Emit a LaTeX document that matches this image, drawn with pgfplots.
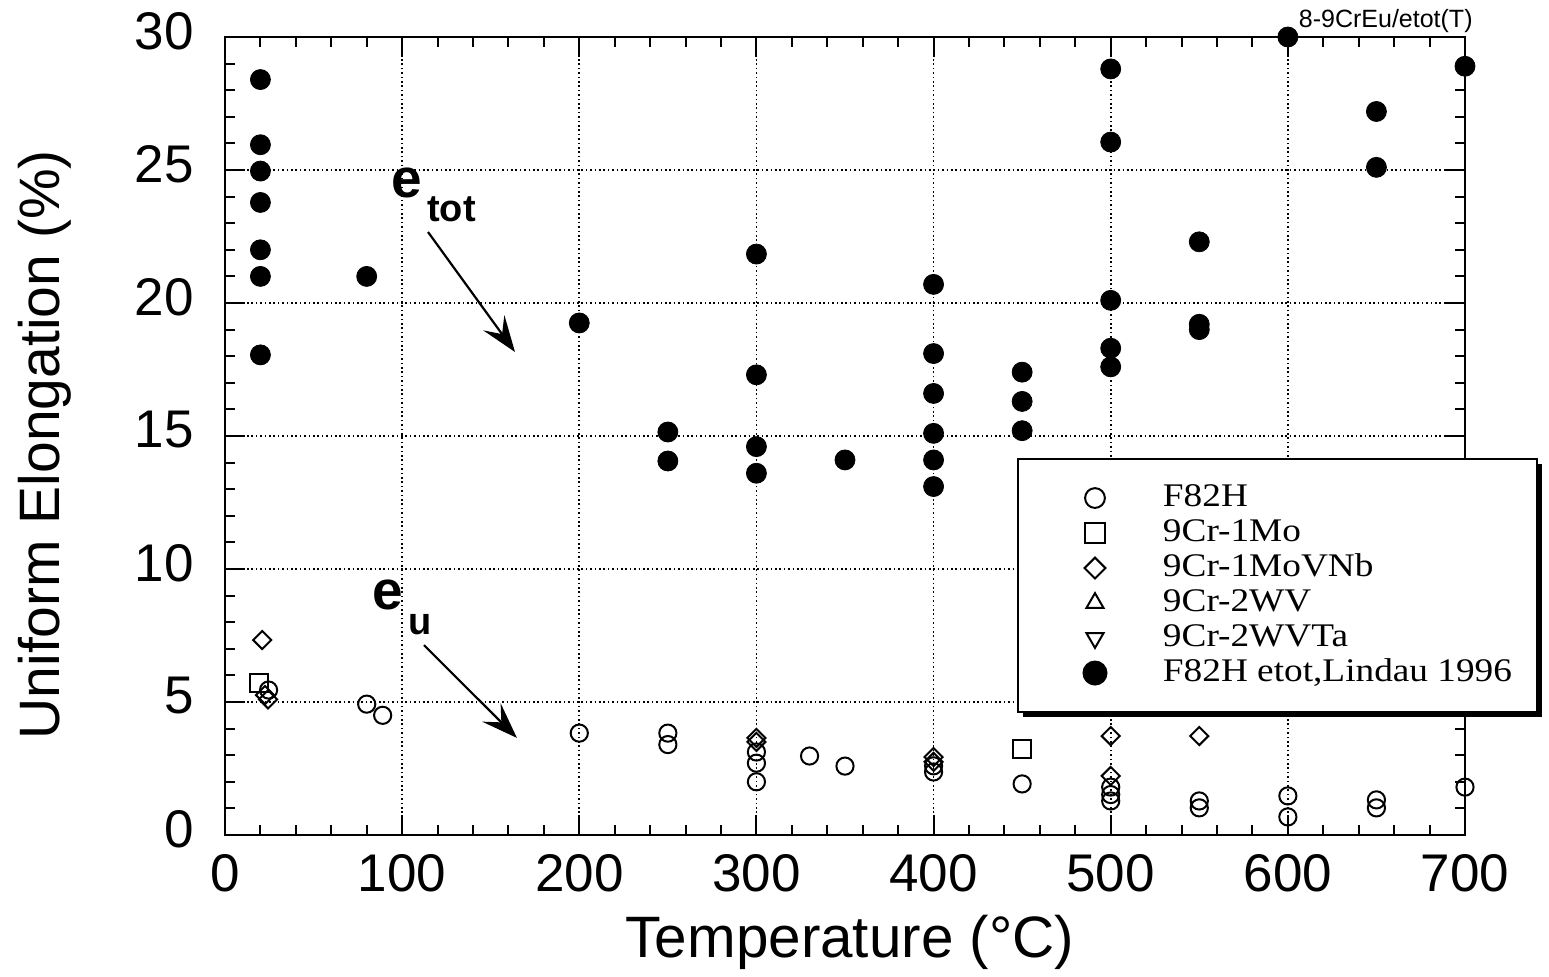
\documentclass[border=0pt]{standalone}
\usepackage{fontspec}
\setmainfont{Liberation Sans}
\newfontfamily\legfont[FakeStretch=1.13]{Liberation Serif}
\usepackage{pgfplots}
\pgfplotsset{compat=1.18}
\usetikzlibrary{arrows.meta,shadows}
\begin{document}
\begin{tikzpicture}
\begin{axis}[
 at={(0,0)}, anchor=south west,
 scale only axis, width=620pt, height=399pt,
 xmin=0, xmax=700, ymin=0, ymax=30,
 xtick={0,100,...,700}, ytick={0,5,...,30},
 minor x tick num=4, minor y tick num=4,
 tick align=inside, major tick length=10pt, minor tick length=5pt,
 every tick/.style={black, line width=1pt},
 axis line style={line width=1pt},
 grid=major, major grid style={black, line width=0.8pt, dash pattern=on 0.8pt off 1.4pt},
 ticklabel style={font=\fontsize{26.5}{30}\selectfont},
 /pgf/number format/assume math mode=true,
 xticklabel style={yshift=-6.2pt},
 yticklabel style={xshift=-12pt, yshift=3pt},
 xlabel={Temperature (°C)}, ylabel={Uniform Elongation (\%)},
 xlabel style={font=\fontsize{29.2}{33}\selectfont, at={(axis description cs:0.504,-0.134)}, anchor=center},
 ylabel style={font=\fontsize{28.5}{33}\selectfont, at={(axis description cs:-0.1452,0.489)}, anchor=center},
 clip=false,
 legend cell align=left,
 legend style={at={(0.6387,0.4724)}, anchor=north west, draw=black, line width=1pt, fill=white,
   drop shadow={shadow xshift=2.5pt, shadow yshift=-2.5pt, fill=black, opacity=1},
   inner xsep=12.5pt, inner ysep=12pt, row sep=2.5pt, column sep=28pt,
   nodes={inner sep=0pt, text height=11.5pt, text depth=3.5pt, font=\legfont\fontsize{16.5}{18}\selectfont}},
 legend image code/.code={\pgfpathmoveto{\pgfpoint{-26pt}{0pt}}\pgfpathlineto{\pgfpoint{6pt}{0pt}}\pgfusepath{discard}\draw[#1,mark repeat=1,every mark/.append style={scale=1.15}] plot coordinates {(0pt,0pt)};},
]
\addplot[black, only marks, mark=o, mark size=4.3pt, line width=1pt] coordinates {
 (24.6,5.45) (80,4.92) (89,4.5) (200,3.83) (250,3.83) (250,3.4)
 (300,3.12) (300,2.7) (300,2.0) (330,2.97) (350,2.59) (400,2.6) (400,2.37)
 (450,1.92) (500,1.8) (500,1.52) (500,1.28) (550,1.28) (550,1.02)
 (600,1.47) (600,0.68) (650,1.32) (650,1.02) (700,1.8)};
\addlegendentry{F82H}
\addplot[black, only marks, mark=square, mark size=4.5pt, line width=1pt] coordinates {
 (19.3,5.71) (450,3.23)};
\addlegendentry{9Cr-1Mo}
\addplot[black, only marks, mark=square, mark size=3.2pt, mark options={rotate=45}, line width=1pt] coordinates {
 (21,7.33) (22.6,5.26) (24.3,5.1) (300,3.65) (300,3.5) (400,2.93) (400,2.75)
 (500,3.72) (500,2.22) (550,3.72)};
\addlegendentry{9Cr-1MoVNb}
\addlegendimage{black, only marks, mark=triangle, mark size=4.3pt, line width=1pt}
\addlegendentry{9Cr-2WV}
\addlegendimage{black, only marks, mark=triangle, mark size=4.3pt, mark options={rotate=180}, line width=1pt}
\addlegendentry{9Cr-2WVTa}
\addplot[black, only marks, mark=*, mark size=5pt] coordinates {
 (20,28.4) (20,25.95) (20,24.96) (20,23.78) (20,22.0) (20,21.0) (20,18.05)
 (80,21.0) (200,19.25) (250,15.15) (250,14.06)
 (300,21.84) (300,17.3) (300,14.6) (300,13.6) (350,14.1)
 (400,20.7) (400,18.1) (400,16.6) (400,15.1) (400,14.1) (400,13.1)
 (450,17.4) (450,16.3) (450,15.2)
 (500,28.8) (500,26.05) (500,20.1) (500,18.3) (500,17.6)
 (550,22.3) (550,19.2) (550,19.0) (600,30.0) (650,27.2) (650,25.1) (700,28.9)};
\addlegendentry{F82H etot,Lindau 1996}
\node[anchor=base west, inner sep=0pt, font=\bfseries\fontsize{27.5}{30}\selectfont] at (axis cs:93.7,23.98) {e};
\node[anchor=base west, inner sep=0pt, font=\bfseries\fontsize{19}{22}\selectfont] at (axis cs:114,23.05) {tot};
\node[anchor=base west, inner sep=0pt, font=\bfseries\fontsize{27.5}{30}\selectfont] at (axis cs:83,8.46) {e};
\node[anchor=base west, inner sep=0pt, font=\bfseries\fontsize{19}{22}\selectfont] at (axis cs:103.3,7.52) {u};
\draw[line width=1.1pt, -{Stealth[length=18pt,width=13pt,inset=7pt]}] (axis cs:114.6,22.67) -- (axis cs:163.7,18.16);
\draw[line width=1.1pt, -{Stealth[length=18pt,width=13pt,inset=7pt]}] (axis cs:112.3,7.14) -- (axis cs:164.8,3.65);
\node[anchor=base east, inner sep=0pt, font=\fontsize{12.5}{14}\selectfont, xshift=4pt, yshift=5pt] at (rel axis cs:1,1) {8-9CrEu/etot(T)};
\end{axis}
\pgfresetboundingbox
\path (-112.5pt,-70.5pt) rectangle (662pt,417.5pt);
\end{tikzpicture}
\end{document}
